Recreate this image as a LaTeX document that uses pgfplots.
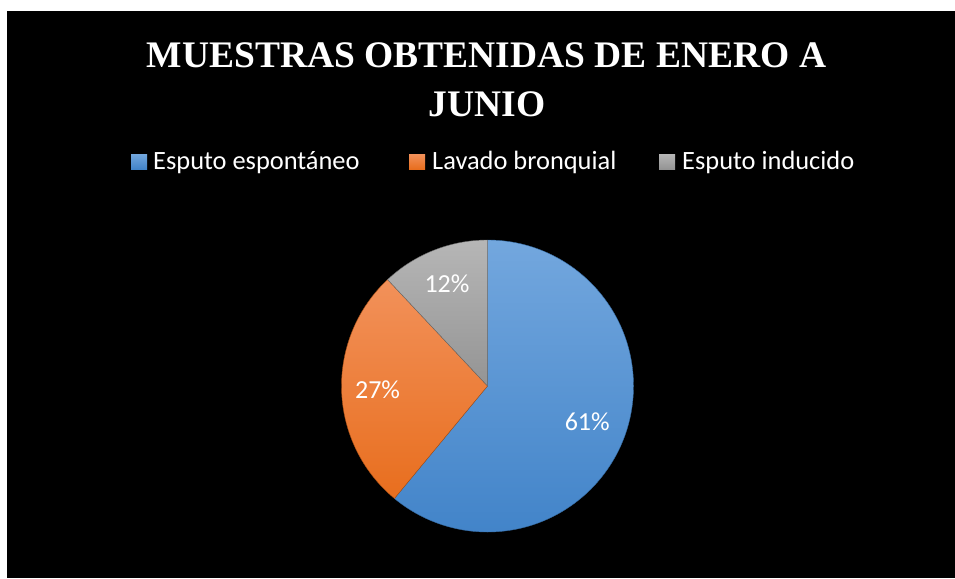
\documentclass[border=0pt]{standalone}
\usepackage{pgfplots}
\pgfplotsset{compat=1.18}
\usepackage{pgfplotstable}
\usepackage{fontspec}
\setmainfont{Liberation Serif}
\newfontfamily\calibri{Carlito}

\definecolor{blueTop}{RGB}{115,167,222}
\definecolor{blueBot}{RGB}{66,132,201}
\definecolor{orangeTop}{RGB}{242,145,90}
\definecolor{orangeBot}{RGB}{232,110,30}
\definecolor{grayTop}{RGB}{182,182,182}
\definecolor{grayBot}{RGB}{148,148,148}

% share of each sample type, in percent
\pgfplotstableread{
id value
0 61
1 27
2 12
}\piedata

\pgfplotstablegetelem{0}{value}\of\piedata\edef\vA{\pgfplotsretval}
\pgfplotstablegetelem{1}{value}\of\piedata\edef\vB{\pgfplotsretval}
\pgfplotstablegetelem{2}{value}\of\piedata\edef\vC{\pgfplotsretval}

% slices run clockwise from 12 o'clock
\pgfmathsetmacro\aA{90}
\pgfmathsetmacro\aB{\aA-3.6*\vA}
\pgfmathsetmacro\aC{\aB-3.6*\vB}
\pgfmathsetmacro\aD{\aC-3.6*\vC}
\pgfmathsetmacro\mA{(\aA+\aB)/2}
\pgfmathsetmacro\mB{(\aB+\aC)/2}
\pgfmathsetmacro\mC{(\aC+\aD)/2}

\begin{document}
\begin{tikzpicture}
\begin{axis}[
    hide axis,
    scale only axis,
    width=955pt, height=578pt,
    xmin=0, xmax=955, ymin=0, ymax=578,
    y dir=reverse,
    clip=false,
]
% background
\fill[white] (axis cs:0,0) rectangle (axis cs:955,578);
\fill[black] (axis cs:7,11) rectangle (axis cs:955,578);

% title
\node[anchor=base, white, font=\fontsize{37.5}{46}\selectfont\bfseries]
    at (axis cs:486.5,67) {MUESTRAS OBTENIDAS DE ENERO A};
\node[anchor=base, white, font=\fontsize{37.5}{46}\selectfont\bfseries]
    at (axis cs:487,116) {JUNIO};

% legend
\shade[top color=blueTop, bottom color=blueBot] (axis cs:131,154) rectangle (axis cs:147,169);
\node[anchor=base west, inner sep=0pt, white, font=\calibri\fontsize{26.4}{30}\selectfont]
    at (axis cs:153,169) {Esputo espontáneo};
\shade[top color=orangeTop, bottom color=orangeBot] (axis cs:409,154) rectangle (axis cs:425,169);
\node[anchor=base west, inner sep=0pt, white, font=\calibri\fontsize{26.4}{30}\selectfont]
    at (axis cs:432,169) {Lavado bronquial};
\shade[top color=grayTop, bottom color=grayBot] (axis cs:659,154) rectangle (axis cs:675,169);
\node[anchor=base west, inner sep=0pt, white, font=\calibri\fontsize{26.4}{30}\selectfont]
    at (axis cs:682,169) {Esputo inducido};

% pie
\shade[top color=blueTop, bottom color=blueBot, draw=blueBot!80!black, line width=0.4pt]
    (axis cs:487.5,386) -- ++(\aA:146pt) arc[start angle=\aA, end angle=\aB, radius=146pt] -- cycle;
\shade[top color=orangeTop, bottom color=orangeBot, draw=orangeBot!70!black, line width=0.4pt]
    (axis cs:487.5,386) -- ++(\aB:146pt) arc[start angle=\aB, end angle=\aC, radius=146pt] -- cycle;
\shade[top color=grayTop, bottom color=grayBot, draw=grayBot!70!black, line width=0.4pt]
    (axis cs:487.5,386) -- ++(\aC:146pt) arc[start angle=\aC, end angle=\aD, radius=146pt] -- cycle;

% data labels
\node[white, font=\calibri\fontsize{26}{30}\selectfont]
    at ([shift={(\mA:106pt)}]axis cs:487.5,386) {\vA\%};
\node[white, font=\calibri\fontsize{26}{30}\selectfont]
    at ([shift={(\mB:110pt)}]axis cs:487.5,386) {\vB\%};
\node[white, font=\calibri\fontsize{26}{30}\selectfont]
    at ([shift={(\mC:110pt)}]axis cs:487.5,386) {\vC\%};
\end{axis}
\end{tikzpicture}
\end{document}
